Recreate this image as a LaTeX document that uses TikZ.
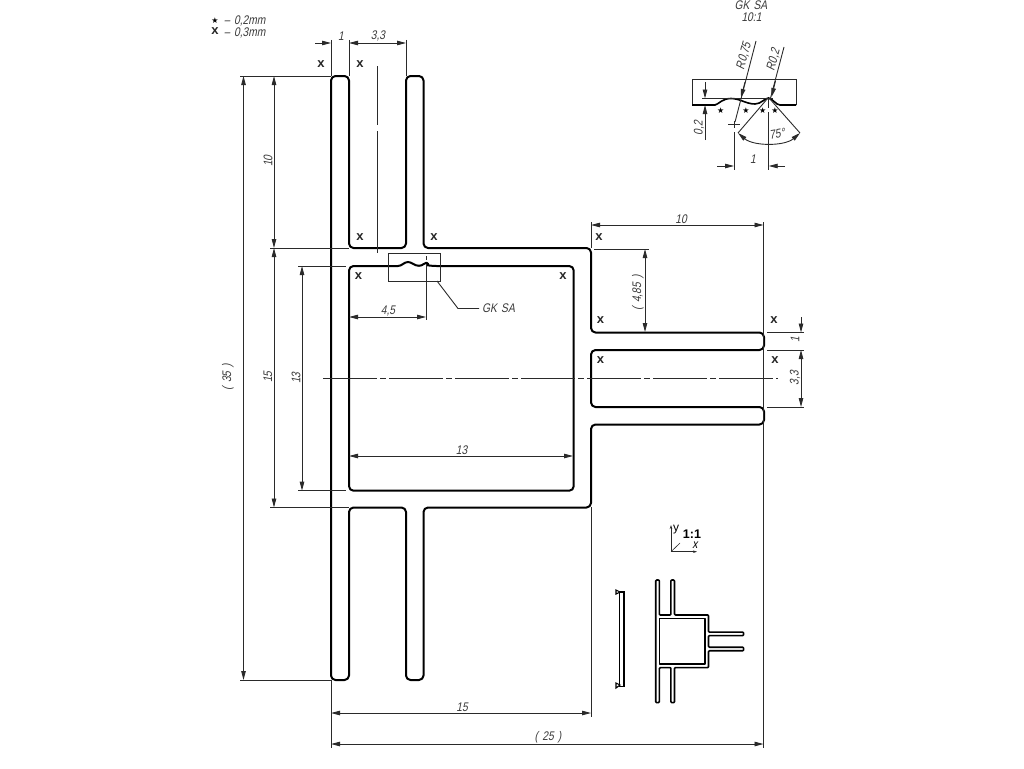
\documentclass[tikz,border=0pt]{standalone}
\usepackage{fontspec}
\usetikzlibrary{arrows.meta}
\newfontfamily\gost[FakeStretch=0.82,FakeSlant=0.2]{Liberation Sans}
\newfontfamily\plainsans{Liberation Sans}
\newfontfamily\symfont{DejaVu Sans}
\definecolor{dimc}{HTML}{2A2A2A}
\definecolor{labc}{HTML}{3A3A3A}
\newcommand{\profilepath}{
  (331,100) [rounded corners=4.5pt] -- (331,76) -- (349,76) -- (349,248) -- (406,248) -- (406,76) -- (423.5,76) -- (423.5,248)
  -- (591,248) -- (591,332.5) -- (764,332.5) -- (764,350) -- (591,350) -- (591,407) -- (764,407) -- (764,424.5)
  -- (591,424.5) -- (591,507.5) -- (423.5,507.5) -- (423.5,680) -- (406,680) -- (406,507.5) -- (349,507.5) -- (349,680)
  -- (331,680) -- cycle
}
\newcommand{\innerpath}{
  (460,490.7) [rounded corners=4.5pt] -- (573.7,490.7) -- (573.7,266) -- (432,266)
  [rounded corners=0pt] .. controls (429,265.5) and (428.5,262.7) .. (426.5,262.7)
  .. controls (424,262.7) and (423,265.8) .. (419,265.8)
  .. controls (414,265.8) and (412,262) .. (408,262)
  .. controls (404,262) and (402,266) .. (398,266)
  [rounded corners=4.5pt] -- (349,266) -- (349,490.7) -- cycle
}
\tikzset{
  x=1pt,y=-1pt,
  contour/.style={line width=2pt,black,line join=round},
  thinl/.style={line width=0.9pt,dimc},
  dimline/.style={line width=0.9pt,dimc,{Stealth[length=9pt,width=4.5pt,inset=0pt]}-{Stealth[length=9pt,width=4.5pt,inset=0pt]}},
  dimend/.style={line width=0.9pt,dimc,-{Stealth[length=9pt,width=4.5pt,inset=0pt]}},
  centerl/.style={line width=0.8pt,dimc,dash pattern=on 54pt off 3pt on 6pt off 3pt,dash phase=63pt},
  lab/.style={font=\gost\fontsize{12.5}{12.5}\selectfont,text=labc,inner sep=0pt},
  xmark/.style={font=\plainsans\bfseries\fontsize{13}{13}\selectfont,text=black!85,inner sep=0pt},
  star/.style={font=\symfont\fontsize{8}{8}\selectfont,text=black,inner sep=0pt},
}
\begin{document}
\begin{tikzpicture}
\useasboundingbox (0,0) rectangle (1024,768);
% main profile
\draw[contour] \profilepath;
\draw[contour] \innerpath;
% extension lines
\draw[thinl] (331,40) -- (331,76);
\draw[thinl] (349,40) -- (349,76);
\draw[thinl] (406,40) -- (406,76);
\draw[thinl] (240,76) -- (331,76);
\draw[thinl] (240,680) -- (331,680);
\draw[thinl] (270,248) -- (349,248);
\draw[thinl] (270,507.5) -- (349,507.5);
\draw[thinl] (298,266) -- (346,266);
\draw[thinl] (298,490.7) -- (346,490.7);
\draw[thinl] (591,222) -- (591,248);
\draw[thinl] (763.5,222) -- (763.5,748);
\draw[thinl] (591,507) -- (591,717);
\draw[thinl] (331,680) -- (331,748);
\draw[thinl] (594,249) -- (649,249);
\draw[thinl] (767,332.5) -- (804,332.5);
\draw[thinl] (767,350) -- (804,350);
\draw[thinl] (767,407) -- (804,407);
% dimension lines
\draw[dimend] (315,43) -- (331,43);
\draw[dimline] (349,43) -- (406,43);
\draw[dimline] (243.5,76) -- (243.5,680);
\draw[dimline] (274,76) -- (274,248);
\draw[dimline] (274,248) -- (274,507.5);
\draw[dimline] (302,266) -- (302,490.7);
\draw[dimline] (349,456) -- (573,456);
\draw[dimline] (349,317) -- (426,317);
\draw[dimline] (591,225) -- (763.5,225);
\draw[dimline] (645,249) -- (645,332);
\draw[dimend] (801,317) -- (801,332.5);
\draw[dimline] (801,350) -- (801,407);
\draw[dimline] (331,713) -- (591,713);
\draw[dimline] (331,744) -- (763.5,744);
% centre lines
\draw[line width=0.8pt,dimc] (377,66) -- (377,125) (377,131) -- (377,253);
\draw[centerl] (320,378) -- (778,378);
% detail callout
\draw[thinl] (388.3,253) rectangle (440,281);
\draw[thinl] (426.3,256) -- (426.3,260) (426.3,264) -- (426.3,320);
\draw[thinl] (437,281) -- (458,308.5) -- (479,308.5);
% labels
\node[lab] (t1) at (341,36) {1};
\node[lab] (t33a) at (378,36) {3,3};
\node[lab,rotate=90] (t35) at (228,377) {(\,\,35\,\,)};
\node[lab,rotate=90] (t10a) at (268,161) {10};
\node[lab,rotate=90] (t15a) at (268,377) {15};
\node[lab,rotate=90] (t13a) at (296,378) {13};
\node[lab] (t13b) at (461.5,450) {13};
\node[lab] (t45) at (388,311) {4,5};
\node[lab,anchor=west] (tgk) at (482,308.5) {GK\,\,SA};
\node[lab] (t10b) at (681,219) {10};
\node[lab,rotate=90] (t485) at (638,293) {(\,\,4,85\,\,)};
\node[lab,rotate=90] (t1r) at (795,340) {1};
\node[lab,rotate=90] (t33r) at (795,378) {3,3};
\node[lab] (t15b) at (462,707) {15};
\node[lab] (t25) at (548,737) {(\,\,25\,\,)};
% x marks
\node[xmark] (x1) at (321,64) {x};
\node[xmark] (x2) at (360,64) {x};
\node[xmark] (x3) at (360,237) {x};
\node[xmark] (x4) at (434,237) {x};
\node[xmark] (x5) at (358.5,276) {x};
\node[xmark] (x6) at (563,276) {x};
\node[xmark] (x7) at (599,237) {x};
\node[xmark] (x8) at (600.5,320) {x};
\node[xmark] (x9) at (600.5,360) {x};
\node[xmark] (x10) at (774,320) {x};
\node[xmark] (x11) at (775,360) {x};
% legend
\node[star] (ls) at (215,20.5) {★};
\node[xmark] (lx) at (215,31.5) {x};
\node[lab,anchor=west] (l1) at (224,20.5) {–\,\,0,2mm};
\node[lab,anchor=west] (l2) at (224,32.5) {–\,\,0,3mm};
% detail view
\node[lab] (dt1) at (751,5) {GK\,\,SA};
\node[lab] (dt2) at (751.5,17) {10:1};
\draw[thinl] (692,105) -- (692,79.5) -- (796,79.5) -- (796,105);
\draw[line width=1.6pt,black] (692,105) -- (715,105)
  .. controls (719,104) and (722,98.5) .. (731,98.5)
  .. controls (740,98.5) and (746,104) .. (755,104)
  .. controls (761,104) and (765,98) .. (768.5,98)
  .. controls (772,98) and (776,105) .. (780,105) -- (796,105);
\draw[thinl] (702,98.5) -- (773,98.5);
\draw[dimend] (705,82) -- (705,98.5);
\draw[dimend] (705,140) -- (705,105);
\node[lab,rotate=90] (d02) at (699,128) {0,2};
\draw[thinl] (756,41) -- (735,122);
\draw[dimend] (745,82) -- (741,98);
\draw[thinl] (784,47) -- (770,100);
\draw[dimend] (775.5,81) -- (771.5,97);
\node[lab,rotate=75] (r075) at (744,56) {R0,75};
\node[lab,rotate=75] (r02) at (773.5,60) {R0,2};
\draw[thinl] (728,124) -- (740,124);
\draw[thinl] (734,121) -- (734,128) (734,132) -- (734,170);
\draw[thinl] (768.7,98) -- (768.7,108) (768.7,112) -- (768.7,170);
\draw[thinl] (768,98) -- (738,133);
\draw[thinl] (769,98) -- (800,133);
\draw[dimline] (738,133) .. controls (753.5,146.3) and (784.5,146.3) .. (800,133);
\node[lab,rotate=10] (a75) at (777,134) {75°};
\draw[dimend] (717,166) -- (734,166);
\draw[dimend] (785,166) -- (768.7,166);
\node[lab] (d1) at (753,159) {1};
\node[star] (s1) at (720.7,111) {★};
\node[star] (s2) at (746,111) {★};
\node[star] (s3) at (762.7,111) {★};
\node[star] (s4) at (775,111) {★};
% axes and scale
\draw[line width=0.7pt,dimc,-{Stealth[length=4pt,width=2.5pt]}] (671,551.7) -- (671,525);
\draw[line width=0.7pt,dimc,-{Stealth[length=4pt,width=2.5pt]}] (671,551.7) -- (697,551.7);
\draw[line width=0.6pt,dimc] (671,551.7) -- (680,543);
\node[font=\plainsans\fontsize{12}{12}\selectfont,inner sep=0pt] (ay) at (676,530) {y};
\node[font=\plainsans\bfseries\fontsize{12.5}{12.5}\selectfont,inner sep=0pt] (as) at (692,534) {1:1};
\node[lab,text=black] (ax) at (695,545) {x};
% miniature
\begin{scope}[shift={(588.5,564.6)},x=0.203pt,y=-0.203pt]
  \draw[line width=1.6pt,black,line join=round,rounded corners=0.9pt] (331,100) -- (331,76) -- (349,76) -- (349,248) -- (406,248) -- (406,76) -- (423.5,76) -- (423.5,248)
  -- (591,248) -- (591,332.5) -- (764,332.5) -- (764,350) -- (591,350) -- (591,407) -- (764,407) -- (764,424.5)
  -- (591,424.5) -- (591,507.5) -- (423.5,507.5) -- (423.5,680) -- (406,680) -- (406,507.5) -- (349,507.5) -- (349,680)
  -- (331,680) -- cycle;
  \draw[line width=1.6pt,black,line join=round] (349,266) -- (573.7,266) -- (573.7,490.7) -- (349,490.7) -- cycle;
\end{scope}
% side view
\draw[line width=1.5pt,black] (619.5,592) rectangle (624,686.5);
\draw[line width=1.1pt,black,fill=white] (616,590) -- (620,592) -- (616,594) -- cycle;
\draw[line width=1.1pt,black,fill=white] (616,683) -- (620,685) -- (616,688) -- cycle;
\end{tikzpicture}
\end{document}
